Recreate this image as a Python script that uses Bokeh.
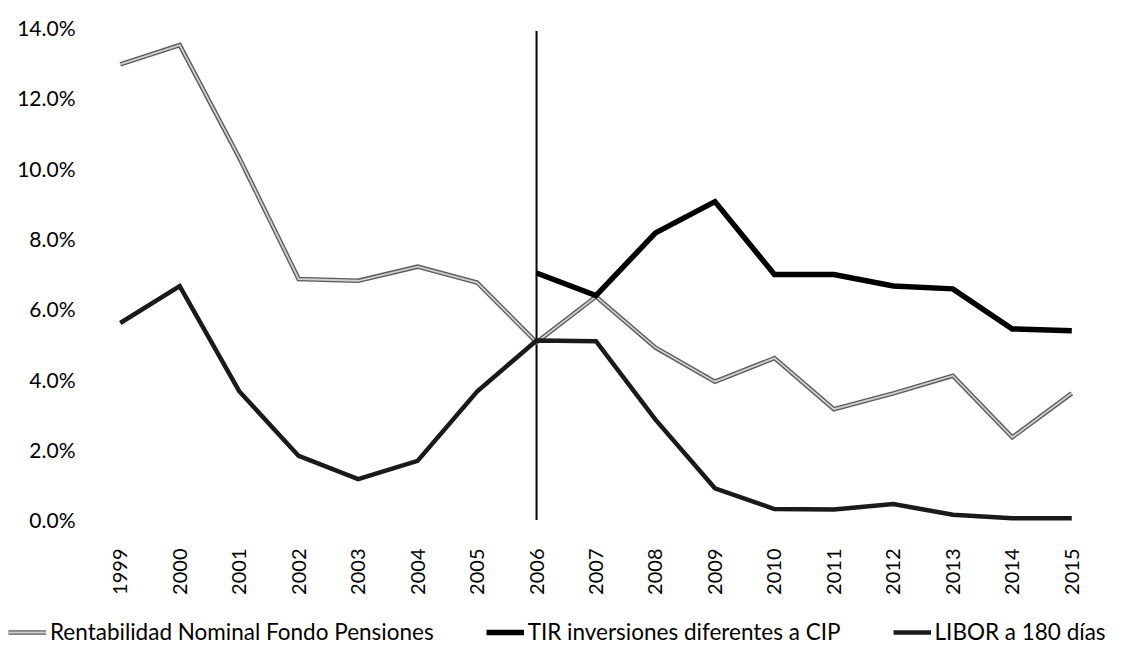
import math
from bokeh.plotting import figure
from bokeh.layouts import column
from bokeh.models import Range1d, FixedTicker, Legend, LegendItem
from bokeh.embed import file_html
from bokeh.resources import INLINE

# ---- data ----
years = [1999, 2000, 2001, 2002, 2003, 2004, 2005, 2006, 2007,
         2008, 2009, 2010, 2011, 2012, 2013, 2014, 2015]
year_labels = [str(y) for y in years]

nan = float("nan")
rentabilidad = [12.95, 13.5, 10.3, 6.85, 6.8, 7.2, 6.75, 5.05, 6.35,
                4.9, 3.93, 4.6, 3.15, 3.6, 4.1, 2.35, 3.6]
tir = [nan, nan, nan, nan, nan, nan, nan, 7.02, 6.38,
       8.16, 9.05, 6.98, 6.98, 6.65, 6.57, 5.43, 5.38]
libor = [5.6, 6.65, 3.66, 1.82, 1.16, 1.68, 3.65, 5.1, 5.08,
         2.85, 0.9, 0.31, 0.3, 0.45, 0.15, 0.05, 0.05]

series_names = ["Rentabilidad Nominal Fondo Pensiones",
                "TIR inversiones diferentes a CIP",
                "LIBOR a 180 días"]

y_ticks = [0, 2, 4, 6, 8, 10, 12, 14]
y_tick_labels = ["0.0%", "2.0%", "4.0%", "6.0%", "8.0%", "10.0%", "12.0%", "14.0%"]

divider_year = 2006
divider_bottom = 0.0
divider_top = 13.9

FONT = "Lato"

RENT_DARK = dict(line_color="#5a5a5a", line_width=4.5, line_join="miter")
RENT_LIGHT = dict(line_color="#cfcfcf", line_width=1.8, line_join="miter")
LIBOR_STYLE = dict(line_color="#1a1a1a", line_width=4.5, line_join="miter")
TIR_STYLE = dict(line_color="black", line_width=5.5, line_join="miter")

p = figure(width=1122, height=606, output_backend="svg", toolbar_location=None,
           x_range=Range1d(1998.5, 2015.5), y_range=Range1d(-0.3, 14.0),
           min_border_left=90, min_border_right=21, min_border_top=27,
           min_border_bottom=76)
p.outline_line_color = None
p.background_fill_color = "white"
p.border_fill_color = "white"
p.xgrid.visible = False
p.ygrid.visible = False

p.xaxis.ticker = FixedTicker(ticks=years)
p.xaxis.major_label_overrides = {y: l for y, l in zip(years, year_labels)}
p.xaxis.major_label_orientation = math.pi / 2
p.xaxis.axis_line_color = None
p.xaxis.major_tick_line_color = None
p.xaxis.minor_tick_line_color = None
p.xaxis.major_tick_out = 0
p.xaxis.major_label_standoff = 18
p.xaxis.major_label_text_font = FONT
p.xaxis.major_label_text_font_size = "20px"
p.xaxis.major_label_text_color = "black"

p.yaxis.ticker = FixedTicker(ticks=y_ticks)
p.yaxis.major_label_overrides = {t: l for t, l in zip(y_ticks, y_tick_labels)}
p.yaxis.axis_line_color = None
p.yaxis.major_tick_line_color = None
p.yaxis.minor_tick_line_color = None
p.yaxis.major_tick_out = 0
p.yaxis.major_label_standoff = 15
p.yaxis.major_label_text_font = FONT
p.yaxis.major_label_text_font_size = "21px"
p.yaxis.major_label_text_color = "black"

# divider line at 2006
p.segment(x0=[divider_year], y0=[divider_bottom], x1=[divider_year], y1=[divider_top],
          line_color="black", line_width=2)

# series
p.line(years, rentabilidad, **RENT_DARK)
p.line(years, rentabilidad, **RENT_LIGHT)
p.line(years, libor, **LIBOR_STYLE)
p.line(years, tir, **TIR_STYLE)

# ---- legend strip (separate figure below the chart) ----
lg = figure(width=1122, height=40, output_backend="svg", toolbar_location=None,
            x_range=Range1d(0, 1), y_range=Range1d(0, 1),
            x_axis_location=None, y_axis_location=None,
            min_border_left=0, min_border_right=0, min_border_top=0,
            min_border_bottom=0)
lg.grid.visible = False
lg.outline_line_color = None
lg.border_fill_color = "white"

legend_x = 8
legend_spacing = 52
try:
    p.frame_align = False
    lg.frame_align = False
except Exception:
    legend_x = 0
    legend_spacing = 14

# single-point proxies (a one-point line draws nothing) carrying each series' style
k_rent_dark = lg.line(x=years[:1], y=rentabilidad[:1], **RENT_DARK)
k_rent_light = lg.line(x=years[:1], y=rentabilidad[:1], **RENT_LIGHT)
k_tir = lg.line(x=years[7:8], y=tir[7:8], **TIR_STYLE)
k_libor = lg.line(x=years[:1], y=libor[:1], **LIBOR_STYLE)

legend = Legend(items=[
    LegendItem(label=series_names[0], renderers=[k_rent_dark, k_rent_light]),
    LegendItem(label=series_names[1], renderers=[k_tir]),
    LegendItem(label=series_names[2], renderers=[k_libor]),
], orientation="horizontal", location=(legend_x, 1))
legend.label_text_font = FONT
legend.label_text_font_size = "22.5px"
legend.label_text_color = "black"
legend.glyph_width = 38
legend.glyph_height = 20
legend.label_standoff = 4
legend.spacing = legend_spacing
legend.padding = 0
legend.margin = 0
legend.border_line_color = None
legend.background_fill_alpha = 0
lg.add_layout(legend, "center")

layout = column(p, lg, spacing=0)
open("out.html", "w").write(file_html(layout, INLINE))
